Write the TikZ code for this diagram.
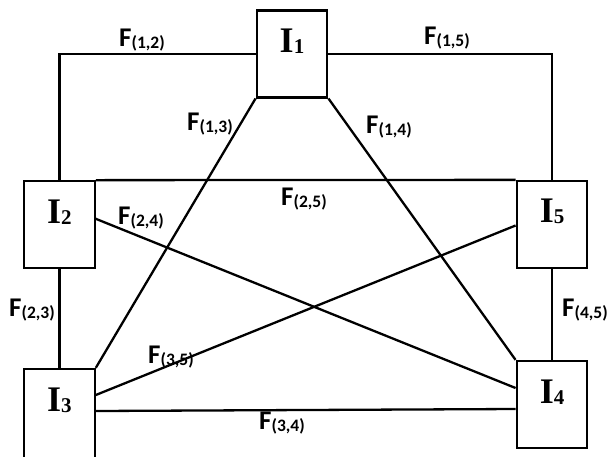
\documentclass[tikz,border=0pt]{standalone}
\usepackage{fontspec}
\newfontfamily\flabfont{Carlito}
\newfontfamily\ilabfont{Liberation Serif}
\newcommand{\FL}[1]{{\flabfont\bfseries\fontsize{27}{27}\selectfont F\raisebox{-2pt}{\fontsize{17.5}{17.5}\selectfont(#1)}}}
\newcommand{\IL}[1]{{\ilabfont\bfseries\fontsize{36}{36}\selectfont I\raisebox{-1pt}{\fontsize{21}{21}\selectfont #1}}}
\begin{document}
\begin{tikzpicture}[x=1pt, y=-1pt, line width=2.3pt,
  ibox/.style={draw, rectangle, minimum width=70.6pt, minimum height=87pt, inner sep=0pt},
  itext/.style={inner sep=0pt, anchor=center},
  flab/.style={inner sep=0pt, anchor=center}]
\useasboundingbox (0,0) rectangle (613,456);
% boxes
\node[ibox] (I1) at (292, 53.85) {};
\node[ibox] (I2) at (59.35, 224.8) {};
\node[ibox] (I5) at (552, 224.5) {};
\node[ibox, minimum height=94pt] (I3) at (59.35, 416) {};
\node[ibox] (I4) at (552, 404.5) {};
% box labels
\node[itext] (T1) at ([yshift=13pt]I1.center) {\IL{1}};
\node[itext] (T2) at ([yshift=13pt]I2.center) {\IL{2}};
\node[itext] (T5) at ([yshift=13pt]I5.center) {\IL{5}};
\node[itext] (T3) at ([yshift=16pt]I3.center) {\IL{3}};
\node[itext] (T4) at ([yshift=12.5pt]I4.center) {\IL{4}};
% connectors
\draw (I1.west) -| (I2.north);
\draw (I1.east) -| (I5.north);
\draw (I2.north east) -- (I5.north west);
\draw (I2.south) -- (I3.north);
\draw (I5.south) -- (I4.north);
\draw (I1.south west) -- (I3.north east);
\draw (I1.south east) -- (I4.north west);
\draw ([yshift=6pt]I2.east) -- ([yshift=16.5pt]I4.west);
\draw ([yshift=21pt]I3.east) -- ([yshift=-1pt]I5.west);
\draw ([yshift=5pt]I3.east) -- ([yshift=-4.5pt]I4.west);
% connector labels
\node[flab] (f12) at (142, 40) {\FL{1,2}};
\node[flab] (f15) at (447, 38) {\FL{1,5}};
\node[flab] (f13) at (210, 124) {\FL{1,3}};
\node[flab] (f14) at (389, 127) {\FL{1,4}};
\node[flab] (f25) at (304, 199) {\FL{2,5}};
\node[flab] (f24) at (141, 218) {\FL{2,4}};
\node[flab] (f23) at (32, 310) {\FL{2,3}};
\node[flab] (f35) at (171, 357) {\FL{3,5}};
\node[flab] (f34) at (282, 423) {\FL{3,4}};
\node[flab] (f45) at (585, 310) {\FL{4,5}};
\end{tikzpicture}
\end{document}
